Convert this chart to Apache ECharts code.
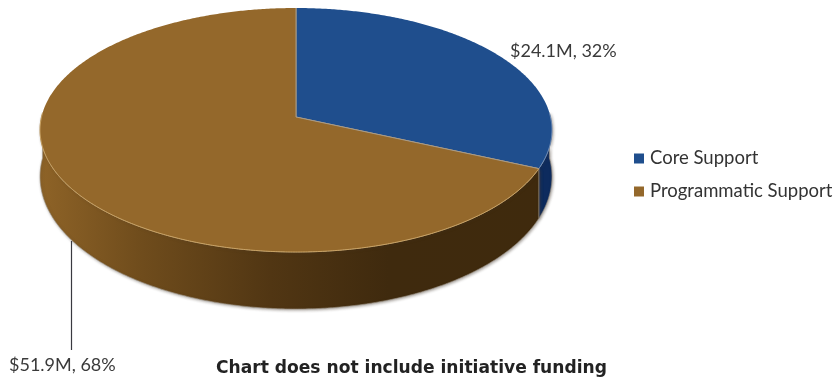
<!DOCTYPE html>
<html>
<head>
<meta charset="utf-8">
<style>html,body{margin:0;padding:0;background:#fff}#main{width:836px;height:379px}</style>
<script src="https://cdn.jsdelivr.net/npm/echarts@6/dist/echarts.min.js"></script>
</head>
<body>
<div id="main"></div>
<script>
// Funding split, in millions of dollars
const categories = ['Core Support', 'Programmatic Support'];
const fundingMillions = [24.1, 51.9];
const sharePercent = [32, 68];
const footnote = 'Chart does not include initiative funding';

const topColors = ['#1f4e8d', '#94682b'];
const rimColors = ['#6f8db8', '#c9a263'];
const seamColor = '#a89a86';

// Tilted disc: a perspective projection of a circle
const disc = { cx: 296, cy: 130, radius: 254.5, halfHeight: 122, apexShift: -13, lean: -0.1066, wall: 45.5 };
const total = fundingMillions.reduce((a, b) => a + b, 0);

function project(deg, r) {
  const a = deg * Math.PI / 180;
  const u = -Math.cos(a) * r;
  const w = 1 + disc.lean * u;
  return [disc.cx + disc.radius * Math.sin(a) * r / w,
          disc.cy + (disc.halfHeight * u + disc.apexShift) / w];
}
function drop(deg) {
  const w = 1 + disc.lean * -Math.cos(deg * Math.PI / 180);
  return disc.wall / (w * w);
}
function arcDegrees(from, to) {
  const list = [];
  for (let d = from; d < to; d += 0.5) list.push(d);
  list.push(to);
  return list;
}

function wallFill(index) {
  if (index === 0) {
    return '#0d2b5e';
  }
  return new echarts.graphic.LinearGradient(40, 0, 552, 0, [
    { offset: 0, color: '#8e6327' },
    { offset: 0.2, color: '#6f4c1c' },
    { offset: 0.45, color: '#513613' },
    { offset: 0.68, color: '#3f2a0e' },
    { offset: 1, color: '#3f2a0d' }
  ], true);
}

function sliceRenderer(index) {
  return function (params, api) {
    const value = api.value(0);
    const before = fundingMillions.slice(0, index).reduce((a, b) => a + b, 0);
    const from = before / total * 360;
    const to = (before + value) / total * 360;
    const top = arcDegrees(from, to).map(d => project(d, 1));

    // Only the front of the rim shows a wall and a highlight
    const wallFrom = Math.max(from, 88);
    const wallTo = Math.min(to, 272);
    const wallRim = arcDegrees(wallFrom, wallTo);
    const wallTop = wallRim.map(d => project(d, 1));
    const wallBottom = wallRim.map(d => {
      const p = project(d, 1);
      return [p[0], p[1] + drop(d)];
    }).reverse();

    return {
      type: 'group',
      children: [
        {
          type: 'polygon',
          shape: { points: wallTop.concat(wallBottom) },
          style: {
            fill: wallFill(index),
            stroke: '#9b9082',
            lineWidth: 0.6,
            shadowBlur: 3,
            shadowColor: 'rgba(70,60,50,0.5)',
            shadowOffsetY: 1,
            shadowOffsetX: 1
          }
        },
        {
          type: 'polygon',
          shape: { points: top.concat([project(0, 0)]) },
          style: { fill: topColors[index] }
        },
        {
          type: 'polyline',
          shape: { points: wallTop },
          style: { fill: null, stroke: rimColors[index], lineWidth: 1 }
        },
        {
          type: 'polyline',
          shape: { points: [project(from, 1), project(0, 0), project(to, 1)] },
          style: { fill: null, stroke: seamColor, lineWidth: 1 }
        }
      ]
    };
  };
}

const labelFont = { fontFamily: 'Lato', fontSize: 18, fill: '#3a3a3a' };
const chart = echarts.init(document.getElementById('main'), null, { renderer: 'canvas' });
chart.setOption({
  animation: false,
  legend: {
    orient: 'vertical',
    left: 629,
    top: 144,
    itemWidth: 10,
    itemHeight: 10,
    itemGap: 14,
    data: categories.map((name, i) => ({ name, icon: 'rect', itemStyle: { color: topColors[i] } })),
    textStyle: { fontFamily: 'Lato', fontSize: 18.5, color: '#333', padding: [0, 0, 0, 1] }
  },
  series: categories.map((name, i) => ({
    type: 'custom',
    name,
    coordinateSystem: 'none',
    z: 2 + i,
    itemStyle: { color: topColors[i] },
    silent: true,
    data: [[fundingMillions[i]]],
    renderItem: sliceRenderer(i)
  })),
  graphic: [
    { type: 'line', z: 5, shape: { x1: 71.5, y1: 241, x2: 71.5, y2: 350 }, style: { stroke: '#3a3a40', lineWidth: 1.2 } },
    { type: 'text', z: 5, left: 510, top: 42, style: { text: `$${fundingMillions[0]}M, ${sharePercent[0]}%`, ...labelFont } },
    { type: 'text', z: 5, left: 9, top: 356, style: { text: `$${fundingMillions[1]}M, ${sharePercent[1]}%`, ...labelFont } },
    { type: 'text', z: 5, left: 216, top: 360, style: { text: footnote, fontFamily: 'DejaVu Sans', fontWeight: 'bold', fontSize: 17.1, fill: '#222' } }
  ]
});
</script>
</body>
</html>
